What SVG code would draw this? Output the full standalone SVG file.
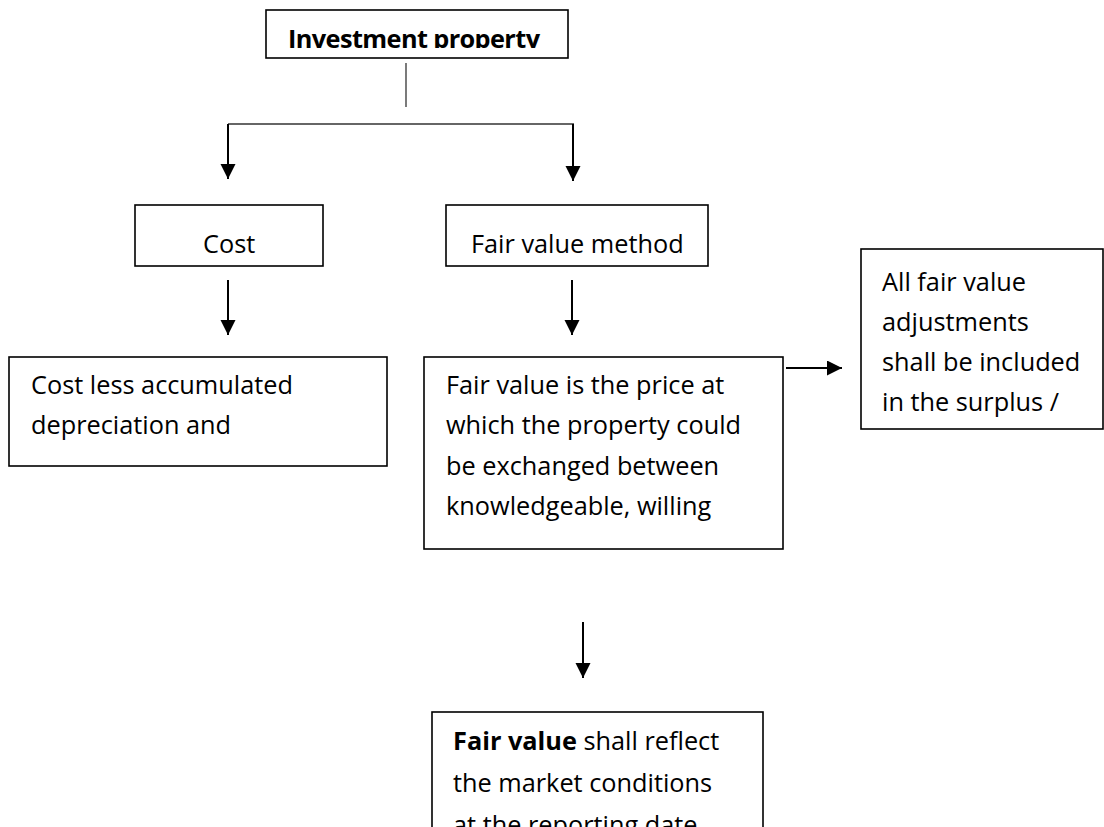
<svg xmlns="http://www.w3.org/2000/svg" width="1104" height="827" viewBox="0 0 1104 827">
<style>
.box{fill:#fff;stroke:#000;stroke-width:1.6}
.t{font-family:"Open Sans","Liberation Sans",sans-serif;font-size:25.3px;fill:#000}
.b{font-weight:bold}
.thin{stroke:#333;stroke-width:1.3;fill:none}
.arr{stroke:#000;stroke-width:2;fill:none;marker-end:url(#ah)}
</style>
<defs>
<marker id="ah" markerUnits="userSpaceOnUse" markerWidth="16" markerHeight="16" refX="15" refY="7.5" orient="auto">
<path d="M0,0 L15,7.5 L0,15 z" fill="#000"/>
</marker>
<clipPath id="clipInv"><rect x="266" y="10" width="302" height="38"/></clipPath>
</defs>
<rect width="1104" height="827" fill="#fff"/>
<g id="connectors">
<line class="thin" x1="406" y1="63" x2="406" y2="107"/>
<line class="thin" x1="228" y1="124" x2="574" y2="124"/>
<line class="arr" x1="228" y1="124" x2="228" y2="179"/>
<line class="arr" x1="573" y1="124" x2="573" y2="181"/>
<line class="arr" x1="228" y1="280" x2="228" y2="335"/>
<line class="arr" x1="572" y1="280" x2="572" y2="335"/>
<line class="arr" x1="786" y1="368" x2="842" y2="368"/>
<line class="arr" x1="583" y1="622" x2="583" y2="678"/>
</g>
<g id="investment">
<rect class="box" x="266" y="10" width="302" height="48"/>
<text class="t b" x="288" y="48" font-size="23.5" letter-spacing="-0.6" clip-path="url(#clipInv)">Investment property</text>
</g>
<g id="cost">
<rect class="box" x="135" y="205" width="188" height="61"/>
<text class="t" x="203" y="253">Cost</text>
</g>
<g id="fairvaluemethod">
<rect class="box" x="446" y="205" width="262" height="61"/>
<text class="t" x="471" y="253">Fair value method</text>
</g>
<g id="costless">
<rect class="box" x="9" y="357" width="378" height="109"/>
<text class="t" x="31" y="394">Cost less accumulated</text>
<text class="t" x="31" y="434">depreciation and</text>
</g>
<g id="fairvalue">
<rect class="box" x="424" y="357" width="359" height="192"/>
<text class="t" x="446" y="394">Fair value is the price at</text>
<text class="t" x="446" y="434">which the property could</text>
<text class="t" x="446" y="475">be exchanged between</text>
<text class="t" x="446" y="515">knowledgeable, willing</text>
</g>
<g id="adjustments">
<rect class="box" x="861" y="249" width="242" height="180"/>
<text class="t" x="882" y="291">All fair value</text>
<text class="t" x="882" y="331">adjustments</text>
<text class="t" x="882" y="371">shall be included</text>
<text class="t" x="882" y="411">in the surplus /</text>
</g>
<g id="marketconditions">
<rect class="box" x="432" y="712" width="331" height="140"/>
<text class="t" x="453" y="750"><tspan class="b">Fair value</tspan> shall reflect</text>
<text class="t" x="453" y="792">the market conditions</text>
<text class="t" x="453" y="834">at the reporting date.</text>
</g>
</svg>
